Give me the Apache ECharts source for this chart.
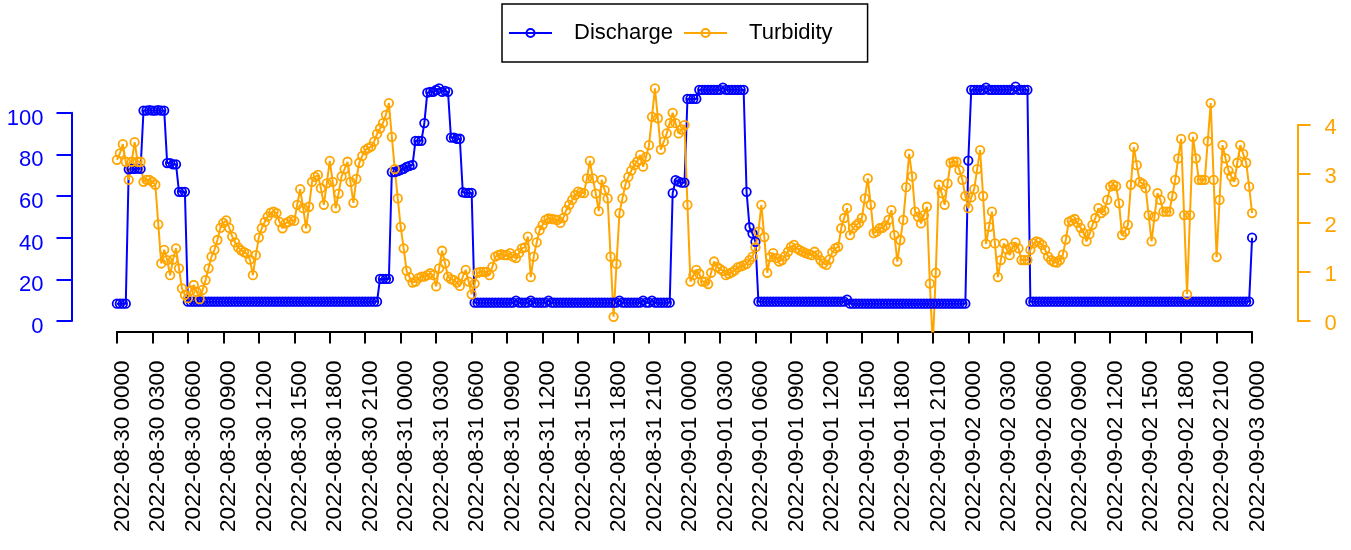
<!DOCTYPE html>
<html>
<head>
<meta charset="utf-8">
<script src="https://cdn.jsdelivr.net/npm/echarts@6/dist/echarts.min.js"></script>
<style>
  html, body { margin: 0; padding: 0; background: #fff; }
  #chart { width: 1351px; height: 550px; }
</style>
</head>
<body>
<div id="chart"></div>
<script>
// 15-minute readings starting 2022-08-30 00:00
const START = '2022-08-30 00:00';
const STEP_HOURS = 0.25;

const discharge = [
  8.3, 8.3, 8.3, 8.3,
  72.8, 73, 73, 73.2, 73,
  101, 101, 101.2, 101, 101, 101.2, 101, 101,
  75.8, 75.8, 75.2, 75.2,
  62, 62, 62,
  9.3, 9.3, 9.3, 9.3, 9.3, 9.3, 9.3, 9.3, 9.3, 9.3, 9.3, 9.3, 9.3, 9.3, 9.3, 9.3, 9.3, 9.3, 9.3, 9.3,
  9.3, 9.3, 9.3, 9.3, 9.3, 9.3, 9.3, 9.3, 9.3, 9.3, 9.3, 9.3, 9.3, 9.3, 9.3, 9.3, 9.3, 9.3, 9.3, 9.3,
  9.3, 9.3, 9.3, 9.3, 9.3, 9.3, 9.3, 9.3, 9.3, 9.3, 9.3, 9.3, 9.3, 9.3, 9.3, 9.3, 9.3, 9.3, 9.3, 9.3,
  9.3, 9.3, 9.3, 9.3, 9.3,
  20.2, 20.2, 20.2, 20.2,
  71.5, 71.5, 72, 72.5, 73, 74, 74.5, 75,
  86.5, 86.5, 86.5,
  95,
  109.6, 110, 110, 110.9, 111.7, 110, 110.5, 110,
  88, 88, 87.5, 87.5,
  61.8, 61.5, 61.5, 61.5,
  8.8, 8.8, 8.8, 8.8, 8.8, 8.8, 8.8, 8.8, 8.8, 8.8, 8.8, 8.8, 8.8, 8.8, 9.8, 8.8, 8.8, 8.8, 8.8, 9.8,
  8.8, 8.8, 8.8, 8.8, 8.8, 9.8, 8.8, 8.8, 8.8, 8.8, 8.8, 8.8, 8.8, 8.8, 8.8, 8.8, 8.8, 8.8, 8.8, 8.8,
  8.8, 8.8, 8.8, 8.8, 8.8, 8.8, 8.8, 8.8, 8.8, 9.8, 8.8, 8.8, 8.8, 8.8, 8.8, 8.8, 8.8, 9.8, 8.8, 8.8,
  9.8, 8.8, 8.8, 8.8, 8.8, 8.8, 8.8,
  61.4,
  67.6, 66.9, 66.4, 66.4,
  106.6, 106.6, 106.6, 106.6,
  111, 111, 111, 111, 111, 111, 111, 111, 112, 111, 111, 111, 111, 111, 111, 111,
  62, 45, 42, 38,
  9.3, 9.3, 9.3, 9.3, 9.3, 9.3, 9.3, 9.3, 9.3, 9.3, 9.3, 9.3, 9.3, 9.3, 9.3, 9.3, 9.3, 9.3, 9.3, 9.3,
  9.3, 9.3, 9.3, 9.3, 9.3, 9.3, 9.3, 9.3, 9.3, 9.3, 10.3,
  8.3, 8.3, 8.3, 8.3, 8.3, 8.3, 8.3, 8.3, 8.3, 8.3, 8.3, 8.3, 8.3, 8.3, 8.3, 8.3, 8.3, 8.3, 8.3, 8.3,
  8.3, 8.3, 8.3, 8.3, 8.3, 8.3, 8.3, 8.3, 8.3, 8.3, 8.3, 8.3, 8.3, 8.3, 8.3, 8.3, 8.3, 8.3, 8.3, 8.3,
  77,
  111, 111, 111, 111, 111, 112, 111, 111, 111, 111, 111, 111, 111, 111, 111, 112.5, 111, 111, 111, 111,
  9.3, 9.3, 9.3, 9.3, 9.3, 9.3, 9.3, 9.3, 9.3, 9.3, 9.3, 9.3, 9.3, 9.3, 9.3, 9.3, 9.3, 9.3, 9.3, 9.3,
  9.3, 9.3, 9.3, 9.3, 9.3, 9.3, 9.3, 9.3, 9.3, 9.3, 9.3, 9.3, 9.3, 9.3, 9.3, 9.3, 9.3, 9.3, 9.3, 9.3,
  9.3, 9.3, 9.3, 9.3, 9.3, 9.3, 9.3, 9.3, 9.3, 9.3, 9.3, 9.3, 9.3, 9.3, 9.3, 9.3, 9.3, 9.3, 9.3, 9.3,
  9.3, 9.3, 9.3, 9.3, 9.3, 9.3, 9.3, 9.3, 9.3, 9.3, 9.3, 9.3, 9.3, 9.3, 9.3,
  40
];

const turbidity = [
  3.29, 3.42, 3.61, 3.25, 2.88, 3.25, 3.65, 3.25, 3.25, 2.84, 2.88, 2.88, 2.84, 2.78, 1.97, 1.17, 1.45, 1.24, 0.93, 1.25,
  1.48, 1.07, 0.66, 0.53, 0.46, 0.62, 0.73, 0.59, 0.44, 0.63, 0.83, 1.07, 1.31, 1.45, 1.65, 1.9, 2.0, 2.05, 1.9, 1.72,
  1.6, 1.5, 1.44, 1.4, 1.37, 1.25, 0.93, 1.34, 1.7, 1.89, 2.02, 2.13, 2.21, 2.23, 2.2, 2.02, 1.89, 1.99, 2.02, 2.06,
  2.04, 2.37, 2.69, 2.3, 1.89, 2.33, 2.84, 2.94, 2.98, 2.71, 2.37, 2.81, 3.27, 2.84, 2.3, 2.6, 2.95, 3.1, 3.25, 2.84,
  2.41, 2.9, 3.23, 3.37, 3.49, 3.53, 3.56, 3.66, 3.82, 3.93, 4.04, 4.21, 4.45, 3.76, 3.1, 2.5, 1.92, 1.48, 1.02, 0.89,
  0.78, 0.8, 0.87, 0.9, 0.9, 0.93, 0.97, 0.93, 0.7, 1.07, 1.43, 1.17, 0.9, 0.85, 0.83, 0.78, 0.71, 0.9, 1.04, 0.8,
  0.54, 0.76, 0.98, 1.0, 1.0, 1.0, 0.93, 1.1, 1.31, 1.34, 1.36, 1.34, 1.34, 1.38, 1.31, 1.28, 1.38, 1.48, 1.5, 1.72,
  0.89, 1.31, 1.6, 1.85, 1.96, 2.06, 2.09, 2.08, 2.07, 2.06, 2.0, 2.1, 2.26, 2.37, 2.47, 2.57, 2.64, 2.62, 2.61, 2.91,
  3.27, 2.91, 2.6, 2.24, 2.88, 2.67, 2.5, 1.31, 0.08, 1.16, 2.2, 2.5, 2.78, 2.94, 3.07, 3.18, 3.25, 3.39, 3.15, 3.35,
  3.59, 4.17, 4.75, 4.14, 3.5, 3.66, 3.83, 4.04, 4.25, 4.04, 3.83, 3.91, 4.0, 2.37, 0.8, 0.93, 1.04, 0.96, 0.8, 0.8,
  0.75, 0.98, 1.21, 1.1, 1.06, 1.02, 0.93, 0.96, 0.99, 1.03, 1.09, 1.11, 1.13, 1.16, 1.24, 1.31, 1.5, 1.82, 2.37, 1.71,
  0.98, 1.3, 1.38, 1.28, 1.21, 1.24, 1.32, 1.41, 1.51, 1.55, 1.48, 1.44, 1.41, 1.38, 1.36, 1.34, 1.41, 1.34, 1.24, 1.17,
  1.14, 1.25, 1.4, 1.48, 1.51, 1.89, 2.1, 2.3, 1.75, 1.89, 1.95, 2.0, 2.1, 2.5, 2.91, 2.37, 1.79, 1.82, 1.89, 1.9,
  1.95, 2.06, 2.26, 1.75, 1.21, 1.65, 2.06, 2.73, 3.41, 2.95, 2.23, 2.13, 1.99, 2.16, 2.33, 0.76, -0.5, 0.98, 2.78, 2.61,
  2.37, 2.81, 3.23, 3.25, 3.25, 3.08, 2.88, 2.55, 2.3, 2.52, 2.69, 3.1, 3.49, 2.55, 1.57, 1.92, 2.23, 1.58, 0.89, 1.24,
  1.58, 1.46, 1.34, 1.51, 1.6, 1.48, 1.24, 1.24, 1.24, 1.45, 1.58, 1.62, 1.6, 1.55, 1.45, 1.31, 1.24, 1.2, 1.19, 1.24,
  1.35, 1.66, 2.02, 2.05, 2.08, 2.0, 1.9, 1.79, 1.62, 1.77, 1.96, 2.1, 2.3, 2.2, 2.25, 2.47, 2.74, 2.78, 2.75, 2.4,
  1.75, 1.82, 1.96, 2.78, 3.55, 3.18, 2.84, 2.8, 2.71, 2.16, 1.62, 2.13, 2.61, 2.47, 2.23, 2.23, 2.23, 2.55, 2.88, 3.32,
  3.72, 2.16, 0.54, 2.16, 3.76, 3.32, 2.88, 2.88, 2.88, 3.67, 4.45, 2.88, 1.3, 2.47, 3.59, 3.32, 3.07, 2.95, 2.84, 3.23,
  3.59, 3.41, 3.23, 2.74, 2.2
];

// tick marks every 3 hours
const TICK_STEP_HOURS = 3;
const tickLabels = [
  '2022-08-30 0000', '2022-08-30 0300', '2022-08-30 0600', '2022-08-30 0900',
  '2022-08-30 1200', '2022-08-30 1500', '2022-08-30 1800', '2022-08-30 2100',
  '2022-08-31 0000', '2022-08-31 0300', '2022-08-31 0600', '2022-08-31 0900',
  '2022-08-31 1200', '2022-08-31 1500', '2022-08-31 1800', '2022-08-31 2100',
  '2022-09-01 0000', '2022-09-01 0300', '2022-09-01 0600', '2022-09-01 0900',
  '2022-09-01 1200', '2022-09-01 1500', '2022-09-01 1800', '2022-09-01 2100',
  '2022-09-02 0000', '2022-09-02 0300', '2022-09-02 0600', '2022-09-02 0900',
  '2022-09-02 1200', '2022-09-02 1500', '2022-09-02 1800', '2022-09-02 2100',
  '2022-09-03 0000'
];
const dischargeTicks = [0, 20, 40, 60, 80, 100];
const turbidityTicks = [0, 1, 2, 3, 4];

const BLUE = '#0000FF';
const ORANGE = '#FFA500';
const FONT = 'Liberation Sans, Arial, Helvetica, sans-serif';

// plotting region and scale ranges (padded like base graphics)
const plot = { left: 71.5, top: 60, width: 1226, height: 271.5 };
const xRange = [-3.84, 99.84];
const dRange = [-5.04, 125.3];
const tRange = [-0.221, 5.331];

const px = h => plot.left + (h - xRange[0]) / (xRange[1] - xRange[0]) * plot.width;
const pyD = d => plot.top + (dRange[1] - d) / (dRange[1] - dRange[0]) * plot.height;
const pyT = v => plot.top + (tRange[1] - v) / (tRange[1] - tRange[0]) * plot.height;

const xTickMax = (tickLabels.length - 1) * TICK_STEP_HOURS;
const dTop = dischargeTicks[dischargeTicks.length - 1];
const dStep = dischargeTicks[1] - dischargeTicks[0];
const tTop = turbidityTicks[turbidityTicks.length - 1];
const tStep = turbidityTicks[1] - turbidityTicks[0];
const plotBottom = plot.top + plot.height;
const plotRight = plot.left + plot.width;

const toPairs = arr => arr.map((v, i) => [i * STEP_HOURS, v]);

const hiddenAxis = (gridIndex, min, max) => ({
  type: 'value', gridIndex, min, max, show: false,
  axisLine: { show: false }, splitLine: { show: false }
});

const chart = echarts.init(document.getElementById('chart'), null, { renderer: 'canvas' });

chart.setOption({
  animation: false,
  backgroundColor: '#ffffff',
  textStyle: { fontFamily: FONT },
  grid: [
    { left: plot.left, top: plot.top, width: plot.width, height: plot.height },
    { left: px(0), width: px(xTickMax) - px(0), top: plotBottom - 10, height: 10 },
    { left: plot.left, width: 10, top: pyD(dTop), height: pyD(0) - pyD(dTop) },
    { left: plotRight - 10, width: 10, top: pyT(tTop), height: pyT(0) - pyT(tTop) }
  ],
  xAxis: [
    hiddenAxis(0, xRange[0], xRange[1]),
    {
      type: 'value', gridIndex: 1, min: 0, max: xTickMax, interval: TICK_STEP_HOURS,
      position: 'bottom',
      axisLine: { show: true, onZero: false, lineStyle: { color: '#000', width: 2 } },
      axisTick: { show: true, inside: false, length: 12, lineStyle: { color: '#000', width: 2 } },
      splitLine: { show: false },
      axisLabel: {
        show: true, rotate: 90, interval: 0, hideOverlap: false, margin: 29,
        color: '#000', fontSize: 22.5, fontFamily: FONT,
        verticalAlign: 'top', lineHeight: 11,
        formatter: v => tickLabels[Math.round(v / TICK_STEP_HOURS)] || ''
      }
    },
    hiddenAxis(2, 0, 1),
    hiddenAxis(3, 0, 1)
  ],
  yAxis: [
    hiddenAxis(0, dRange[0], dRange[1]),
    hiddenAxis(0, tRange[0], tRange[1]),
    hiddenAxis(1, 0, 1),
    {
      type: 'value', gridIndex: 2, min: 0, max: dTop, interval: dStep, position: 'left',
      axisLine: { show: true, onZero: false, lineStyle: { color: BLUE, width: 2 } },
      axisTick: { show: true, inside: false, length: 15, lineStyle: { color: BLUE, width: 2 } },
      splitLine: { show: false },
      axisLabel: {
        show: true, margin: 28, color: BLUE, fontSize: 22, fontFamily: FONT,
        verticalAlign: 'top', lineHeight: 12
      }
    },
    {
      type: 'value', gridIndex: 3, min: 0, max: tTop, interval: tStep, position: 'right',
      axisLine: { show: true, onZero: false, lineStyle: { color: ORANGE, width: 2 } },
      axisTick: { show: true, inside: false, length: 13, lineStyle: { color: ORANGE, width: 2 } },
      splitLine: { show: false },
      axisLabel: {
        show: true, margin: 27, color: ORANGE, fontSize: 22, fontFamily: FONT,
        verticalAlign: 'top', lineHeight: 6
      }
    }
  ],
  legend: {
    left: 502, top: 4,
    orient: 'horizontal',
    data: ['Discharge', 'Turbidity'],
    itemWidth: 43, itemHeight: 10, itemGap: 10,
    padding: [18, 35, 18, 6],
    borderColor: '#000', borderWidth: 1.5, borderRadius: 0,
    backgroundColor: '#fff',
    textStyle: { color: '#000', fontSize: 22, fontFamily: FONT, padding: [0, 0, 0, 17] }
  },
  series: [
    {
      name: 'Discharge', type: 'line', xAxisIndex: 0, yAxisIndex: 0,
      data: toPairs(discharge),
      color: BLUE,
      symbol: 'circle', symbolSize: 8.5, showAllSymbol: true,
      lineStyle: { color: BLUE, width: 2 },
      itemStyle: { color: 'rgba(0,0,0,0)', borderColor: BLUE, borderWidth: 1.8 },
      emphasis: { disabled: true },
      clip: true
    },
    {
      name: 'Turbidity', type: 'line', xAxisIndex: 0, yAxisIndex: 1,
      data: toPairs(turbidity),
      color: ORANGE,
      symbol: 'circle', symbolSize: 8.5, showAllSymbol: true,
      lineStyle: { color: ORANGE, width: 2 },
      itemStyle: { color: 'rgba(0,0,0,0)', borderColor: ORANGE, borderWidth: 1.8 },
      emphasis: { disabled: true },
      clip: true
    }
  ]
});
</script>
</body>
</html>
